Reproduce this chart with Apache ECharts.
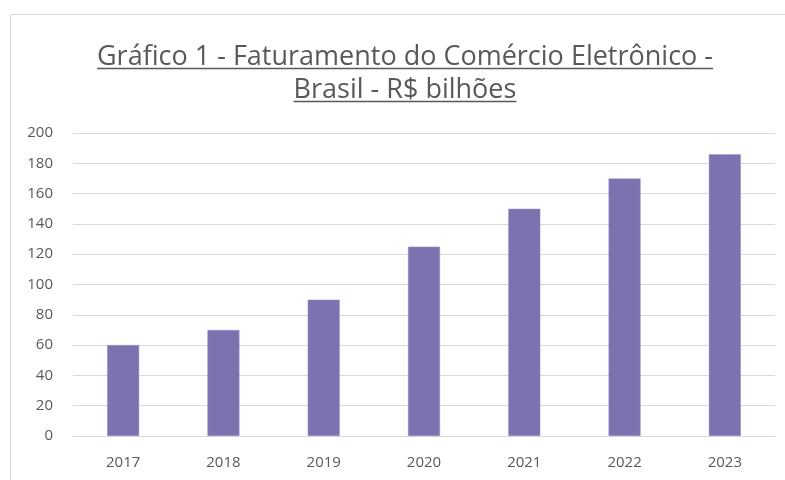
<!DOCTYPE html>
<html>
<head>
<meta charset="utf-8">
<script src="https://cdn.jsdelivr.net/npm/echarts@6/dist/echarts.min.js"></script>
<style>
  html, body { margin: 0; padding: 0; background: #fff; }
  #chart { width: 785px; height: 480px; }
</style>
</head>
<body>
<div id="chart"></div>
<script>
// dados do gráfico
const anos = ["2017", "2018", "2019", "2020", "2021", "2022", "2023"];
const faturamento = [60, 70, 90, 125, 150, 170, 186];
const tituloLinhas = ["Gráfico 1 - Faturamento do Comércio Eletrônico -", "Brasil - R$ bilhões"];

const fonte = "'Open Sans', sans-serif";
const tituloTam = 27;
const chart = echarts.init(document.getElementById("chart"));

// largura do texto para o sublinhado
const medir = (txt) => {
  const ctx = document.createElement("canvas").getContext("2d");
  ctx.font = tituloTam + "px " + fonte;
  return ctx.measureText(txt).width;
};

const centroX = 405;
const baseY = [66, 99];
const titulo = [];
tituloLinhas.forEach((t, i) => {
  const w = medir(t);
  titulo.push({
    type: "text",
    x: centroX,
    y: baseY[i] + 5,
    style: {
      text: t,
      font: tituloTam + "px " + fonte,
      fill: "#595959",
      align: "center",
      verticalAlign: "bottom",
    },
  });
  titulo.push({
    type: "line",
    shape: { x1: centroX - w / 2, y1: baseY[i] + 2.5, x2: centroX + w / 2, y2: baseY[i] + 2.5 },
    style: { stroke: "#595959", lineWidth: 1.5 },
  });
});

const option = {
  animation: false,
  textStyle: { fontFamily: fonte },
  graphic: [
    {
      type: "rect",
      shape: { x: 10.5, y: 14.5, width: 800, height: 500 },
      style: { fill: "none", stroke: "#d9d9d9", lineWidth: 1 },
    },
    ...titulo,
  ],
  grid: { left: 73, right: 10, top: 133, bottom: 44 },
  xAxis: {
    type: "category",
    data: anos,
    axisLine: { lineStyle: { color: "#d9d9d9" } },
    axisTick: { show: false },
    axisLabel: { color: "#595959", fontSize: 15, margin: 19 },
  },
  yAxis: {
    type: "value",
    min: 0,
    max: 200,
    interval: 20,
    axisLine: { show: false },
    axisTick: { show: false },
    axisLabel: { color: "#595959", fontSize: 15, margin: 20 },
    splitLine: { lineStyle: { color: "#d9d9d9", width: 1 } },
  },
  series: [
    {
      type: "bar",
      data: faturamento,
      barWidth: 32,
      itemStyle: { color: "#7C72B0", borderColor: "#9C93C6", borderWidth: 0.5 },
    },
  ],
};
chart.setOption(option);
</script>
</body>
</html>
